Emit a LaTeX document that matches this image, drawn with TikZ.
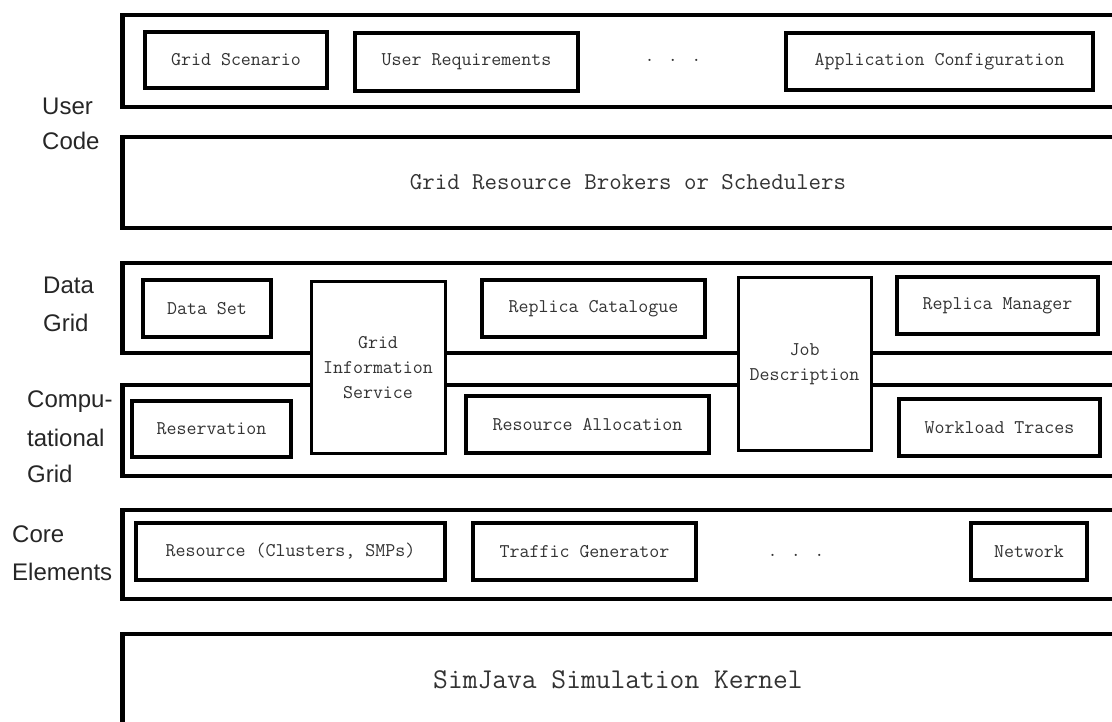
\documentclass[tikz,border=0pt]{standalone}
\usepackage{fontspec}
\setmainfont{Liberation Sans}
\begin{document}
\begin{tikzpicture}[x=1pt,y=-1pt,
  layer/.style={draw=black, line width=4.5pt, fill=white, inner sep=0pt,
    minimum width=1040pt},
  item/.style={draw=black, line width=4pt, fill=white, inner sep=0pt,
    font=\ttfamily\fontsize{19.4}{22}\selectfont, text=black!80},
  tallbox/.style={draw=black, line width=3pt, fill=white, inner sep=0pt, align=center,
    font=\ttfamily\fontsize{19.4}{25}\selectfont, text=black!80},
  dots/.style={inner sep=0pt, font=\ttfamily\fontsize{19.4}{22}\selectfont, text=black!80},
  lab/.style={inner sep=0pt, anchor=base west, font=\fontsize{24}{28}\selectfont, text=black!85}]
\useasboundingbox (0,0) rectangle (1112,722);
\clip (0,0) rectangle (1112,722);
\fill[white] (0,0) rectangle (1112,722);
% layers
\node[layer, minimum height=92pt, anchor=west] (user) at (120,61) {};
\node[layer, minimum height=91pt, anchor=west] (brokers) at (120,182.5) {};
\node[layer, minimum height=90pt, anchor=west] (data) at (120,308) {};
\node[layer, minimum height=91pt, anchor=west] (comp) at (120,430.5) {};
\node[layer, minimum height=89pt, anchor=west] (core) at (120,554.5) {};
\node[layer, minimum height=92pt, anchor=west] (kernel) at (120,680) {};
\node[inner sep=0pt, font=\ttfamily\fontsize{24.2}{28}\selectfont, text=black!80] (brokerstext) at (628,182) {Grid Resource Brokers or Schedulers};
\node[inner sep=0pt, font=\ttfamily\fontsize{28.7}{32}\selectfont, text=black!80] (kerneltext) at (618,680) {SimJava Simulation Kernel};
% user code
\node[item, minimum width=182pt, minimum height=56pt] (scen) at (236,60) {Grid Scenario};
\node[item, minimum width=223pt, minimum height=58pt] (req) at (466.5,62) {User Requirements};
\node[dots] (dotsa) at (673,60) {. . .};
\node[item, minimum width=307pt, minimum height=57pt] (app) at (939.5,61.5) {Application Configuration};
% data grid
\node[item, minimum width=128pt, minimum height=57pt] (dset) at (207,308.5) {Data Set};
\node[item, minimum width=223pt, minimum height=57pt] (rcat) at (593.5,308.5) {Replica Catalogue};
\node[item, minimum width=201pt, minimum height=57pt] (rman) at (997.5,305.5) {Replica Manager};
% computational grid
\node[item, minimum width=159pt, minimum height=56pt] (resv) at (211.5,429) {Reservation};
\node[item, minimum width=243pt, minimum height=57pt] (ralloc) at (587.5,424.5) {Resource Allocation};
\node[item, minimum width=201pt, minimum height=57pt] (wtrace) at (999.5,427.5) {Workload Traces};
% spanning boxes
\node[tallbox, minimum width=134pt, minimum height=171pt] (gis) at (378,367.5) {Grid\\Information\\Service};
\node[tallbox, minimum width=133pt, minimum height=172pt] (job) at (804.5,364) {Job\\Description};
% core elements
\node[item, minimum width=309pt, minimum height=57pt] (rclus) at (290.5,551.5) {Resource (Clusters, SMPs)};
\node[item, minimum width=223pt, minimum height=57pt] (traffic) at (584.5,551.5) {Traffic Generator};
\node[dots] (dotsb) at (796,555) {. . .};
\node[item, minimum width=116pt, minimum height=57pt] (net) at (1029,551.5) {Network};
% side labels
\node[lab] (l1a) at (42,115) {User};
\node[lab] (l1b) at (42,150) {Code};
\node[lab] (l2a) at (43,294) {Data};
\node[lab] (l2b) at (43,331) {Grid};
\node[lab] (l3a) at (27,407) {Compu-};
\node[lab] (l3b) at (27,446) {tational};
\node[lab] (l3c) at (27,482) {Grid};
\node[lab] (l4a) at (12,542) {Core};
\node[lab] (l4b) at (12,580) {Elements};
\end{tikzpicture}
\end{document}
